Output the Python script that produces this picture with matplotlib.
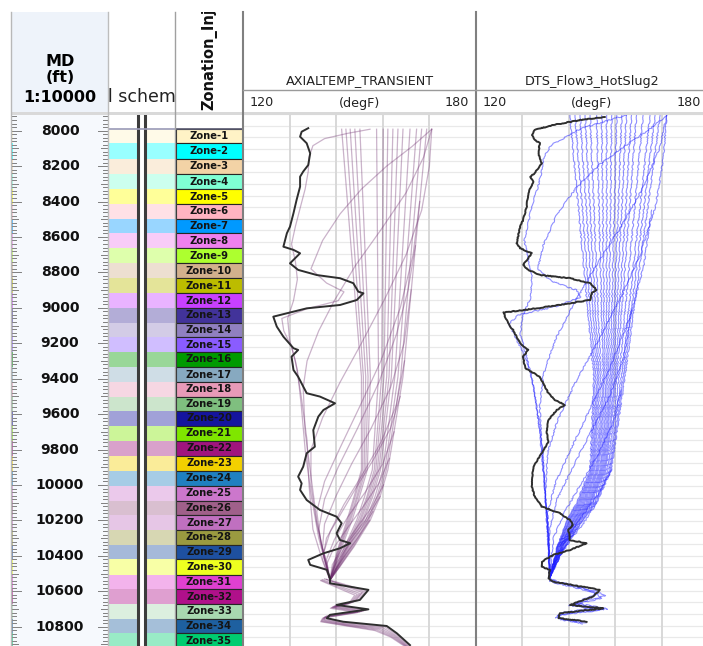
import matplotlib
matplotlib.use("Agg")
import matplotlib.pyplot as plt
from matplotlib.patches import Rectangle
import numpy as np

plt.rcParams["font.family"] = "DejaVu Sans"

# ---------------------------------------------------------------- zonation
zone_names = [f"Zone-{i}" for i in range(1, 36)]
zone_tops = [7992, 8071, 8158, 8244, 8331, 8414, 8497, 8579, 8662, 8749,
             8832, 8918, 9001, 9084, 9166, 9249, 9334, 9419, 9502, 9582,
             9667, 9750, 9836, 9921, 10006, 10089, 10171, 10254, 10337, 10420,
             10507, 10589, 10672, 10755, 10837]
zone_base = 10920
zone_colors = ["#fff3c6", "#00ffff", "#f3d3a6", "#7fffd4", "#ffff00",
               "#ffb3c1", "#0099ff", "#ee80ee", "#adff2f", "#d2b08c",
               "#bcbc00", "#c840ff", "#42339a", "#9080c0", "#8a5cff",
               "#009a00", "#87a9c0", "#e89ab8", "#7fbf7f", "#14149e",
               "#7fe600", "#a0157e", "#f2d000", "#2080c0", "#cc77cc",
               "#a0608a", "#c070c0", "#9a9a40", "#1e50a0", "#eeff20",
               "#e040d0", "#b0108a", "#a8d8b0", "#1e60a0", "#00cc70"]

depth_labels = [8000, 8200, 8400, 8600, 8800, 9000, 9200, 9400,
                9600, 9800, 10000, 10200, 10400, 10600, 10800]

# ------------------------------------------------------- AXIALTEMP_TRANSIENT
axial_ref = [(7986, 136.8), (8006, 135.1), (8034, 134.7), (8071, 136.4), (8128, 137.3),
             (8194, 136.8), (8231, 135.5), (8260, 134.7), (8316, 134.7), (8391, 133.8),
             (8466, 133.0), (8542, 132.1), (8579, 131.3), (8655, 130.4), (8673, 133.0),
             (8692, 134.7), (8749, 132.1), (8786, 134.2), (8815, 139.0), (8833, 145.0),
             (8861, 148.4), (8909, 149.7), (8918, 151.0), (8956, 149.3), (8984, 145.0),
             (9003, 136.4), (9050, 127.8), (9106, 128.7), (9163, 130.4), (9228, 133.0),
             (9238, 134.2), (9276, 132.5), (9351, 133.0), (9389, 134.2), (9482, 136.4),
             (9501, 139.8), (9539, 143.7), (9577, 140.7), (9614, 139.4), (9690, 138.1),
             (9784, 138.5), (9821, 136.4), (9897, 135.5), (9953, 134.2), (9991, 135.1),
             (10028, 134.7), (10085, 136.4), (10141, 139.8), (10179, 144.1), (10216, 145.4),
             (10273, 144.1), (10311, 145.0), (10329, 147.6), (10357, 145.0), (10386, 140.7),
             (10423, 136.8), (10451, 137.3), (10479, 141.6), (10527, 142.4), (10555, 142.4),
             (10592, 152.3), (10649, 150.1), (10677, 144.1), (10702, 152.3), (10733, 142.4),
             (10752, 141.6), (10772, 145.8), (10796, 157.0), (10837, 159.6), (10904, 163.0)]

axial_fan_depth = [7992, 9389, 9915, 10066, 10198, 10348, 10460, 10537]
axial_fan_temp = [
    [145.4, 150.5, 150.5, 148.6, 146.8, 144.6, 143.2, 142.4],
    [146.5, 151.0, 150.8, 148.9, 147.1, 144.8, 143.3, 142.4],
    [147.6, 151.6, 151.2, 149.3, 147.4, 145.0, 143.4, 142.4],
    [148.8, 152.2, 151.6, 149.6, 147.7, 145.2, 143.5, 142.4],
    [150.1, 152.8, 152.0, 150.0, 148.1, 145.5, 143.6, 142.4],
    [154.4, 154.9, 153.3, 151.3, 149.3, 146.2, 143.9, 142.4],
    [156.1, 155.7, 153.8, 151.9, 149.7, 146.6, 144.1, 142.4],
    [157.3, 156.3, 154.2, 152.2, 150.1, 146.8, 144.2, 142.4],
    [158.6, 157.0, 154.6, 152.6, 150.4, 147.0, 144.3, 142.4],
    [159.9, 157.6, 155.0, 153.0, 150.8, 147.2, 144.4, 142.4],
    [161.2, 158.2, 155.4, 153.4, 151.1, 147.5, 144.5, 142.4],
    [163.0, 159.1, 156.0, 154.0, 151.6, 147.8, 144.6, 142.4],
    [164.7, 159.9, 156.5, 154.5, 152.1, 148.1, 144.8, 142.4],
    [166.0, 160.6, 156.9, 154.9, 152.4, 148.4, 144.9, 142.4],
    [167.3, 161.2, 157.3, 155.3, 152.8, 148.6, 145.0, 142.4],
]

axial_sweeps = [
    [(7992, 168.6), (8090, 163.5), (8200, 157.0), (8330, 150.5), (8470, 145.0), (8620, 140.5),
     (8780, 137.5), (8860, 141.5), (8910, 146.0), (8960, 144.5), (9005, 136.5), (9060, 130.0),
     (9130, 130.5), (9220, 132.5), (9350, 134.0), (9550, 135.0), (9800, 136.0), (10050, 137.5),
     (10300, 139.5), (10537, 142.4)],
    [(7992, 168.6), (8150, 166.5), (8350, 162.0), (8560, 155.5), (8760, 149.0), (8960, 143.5),
     (9130, 139.5), (9300, 136.5), (9450, 135.5), (9700, 136.0), (9950, 137.5), (10200, 139.0),
     (10420, 141.0), (10537, 142.4)],
    [(7992, 168.6), (8200, 168.0), (8450, 166.0), (8700, 162.0), (8950, 156.5), (9200, 150.5),
     (9420, 145.0), (9620, 140.5), (9800, 137.5), (10000, 137.5), (10220, 139.0), (10430, 141.2),
     (10537, 142.4)],
    [(8400, 165.5), (8700, 163.8), (9000, 160.5), (9300, 155.5), (9560, 150.0), (9790, 145.0),
     (9980, 141.0), (10150, 139.0), (10320, 140.0), (10450, 141.5), (10537, 142.4)],
    [(8650, 164.4), (8900, 162.5), (9150, 159.5), (9420, 155.0), (9680, 149.5), (9900, 144.5),
     (10080, 141.0), (10250, 139.5), (10420, 141.0), (10537, 142.4)],
    [(8900, 163.3), (9200, 161.5), (9450, 158.0), (9680, 153.0), (9880, 148.0), (10060, 144.0),
     (10220, 141.0), (10350, 140.5), (10470, 141.8), (10537, 142.4)],
    [(9300, 161.6), (9550, 159.5), (9760, 155.5), (9950, 150.5), (10110, 146.0), (10260, 142.5),
     (10380, 140.8), (10480, 141.9), (10537, 142.4)],
    [(9500, 160.5), (9680, 158.0), (9860, 153.5), (10020, 149.0), (10170, 145.0), (10300, 141.5),
     (10420, 140.5), (10537, 142.4)],
    [(9700, 158.9), (9880, 156.0), (10040, 151.5), (10180, 147.0), (10310, 143.5), (10420, 141.5),
     (10537, 142.4)],
    [(9850, 157.7), (9990, 155.0), (10120, 151.0), (10240, 147.0), (10350, 143.5), (10450, 141.5),
     (10537, 142.4)],
    [(10000, 156.2), (10130, 153.0), (10250, 149.0), (10360, 145.5), (10450, 143.0), (10537, 142.4)],
    [(10066, 155.3), (10200, 151.5), (10310, 147.5), (10410, 144.5), (10537, 142.4)],
    [(10150, 153.5), (10260, 150.0), (10360, 146.5), (10450, 143.8), (10537, 142.4)],
    [(10200, 152.6), (10300, 149.5), (10390, 146.5), (10470, 144.0), (10537, 142.4)],
    [(7992, 152.7), (8015, 147.0), (8045, 141.0), (8085, 138.0), (8150, 137.0), (8230, 136.8),
     (8330, 136.0), (8430, 134.8), (8540, 133.5), (8640, 132.5), (8740, 133.5), (8840, 134.0),
     (8960, 133.0), (9060, 131.5), (9180, 132.0), (9300, 133.5), (9500, 135.0), (9750, 136.5),
     (10000, 137.0), (10250, 138.0), (10430, 140.5), (10537, 142.4)],
]

axial_tail = [
    [(10530, 141.0), (10600, 151.0), (10655, 149.0), (10684, 143.5), (10708, 151.5), (10740, 141.5),
     (10760, 141.0), (10782, 146.0), (10806, 156.0), (10845, 159.0), (10909, 162.5)],
    [(10535, 140.5), (10612, 150.0), (10664, 148.0), (10690, 143.0), (10714, 150.5), (10746, 141.0),
     (10767, 140.5), (10790, 146.5), (10815, 155.0), (10852, 158.5), (10909, 162.0)],
    [(10540, 140.0), (10622, 148.8), (10670, 147.2), (10696, 142.5), (10720, 149.5), (10752, 140.5),
     (10772, 140.0), (10797, 147.0), (10822, 154.0), (10858, 158.0), (10909, 161.5)],
    [(10537, 142.4), (10596, 151.6), (10652, 149.6), (10680, 143.8), (10705, 151.9), (10737, 142.0),
     (10756, 141.3), (10777, 145.9), (10801, 156.5), (10841, 159.3), (10909, 162.8)],
    [(10533, 141.5), (10606, 150.6), (10660, 148.5), (10687, 143.2), (10711, 151.0), (10743, 141.2),
     (10764, 140.8), (10786, 146.2), (10811, 155.5), (10849, 158.8), (10909, 162.2)],
    [(10538, 140.2), (10617, 149.4), (10667, 147.6), (10693, 142.8), (10717, 150.0), (10749, 140.8),
     (10770, 140.2), (10794, 146.8), (10819, 154.5), (10855, 158.2), (10909, 161.8)],
]

# ------------------------------------------------------- DTS_Flow3_HotSlug2
dts_ref = [(7923, 153.3), (7940, 146.9), (7968, 140.0), (7996, 135.2), (8024, 134.4),
           (8052, 135.2), (8071, 136.5), (8128, 136.1), (8184, 137.0), (8240, 135.2),
           (8260, 134.0), (8288, 134.8), (8353, 133.5), (8429, 133.1), (8504, 132.2),
           (8542, 131.4), (8636, 130.5), (8664, 131.4), (8692, 134.4), (8758, 132.2),
           (8786, 133.5), (8815, 136.5), (8833, 144.3), (8861, 149.5), (8899, 151.2),
           (8918, 149.9), (8956, 149.5), (8974, 144.3), (9003, 135.7), (9027, 127.1),
           (9069, 127.9), (9106, 128.8), (9125, 129.6), (9181, 130.9), (9219, 132.2),
           (9238, 133.5), (9276, 132.2), (9341, 132.7), (9389, 136.5), (9482, 138.7),
           (9520, 140.4), (9548, 143.0), (9577, 140.9), (9633, 138.7), (9708, 138.3),
           (9756, 138.7), (9821, 137.0), (9897, 134.8), (10010, 134.4), (10066, 135.2),
           (10122, 137.0), (10160, 141.7), (10198, 144.3), (10226, 145.1), (10254, 143.9),
           (10311, 144.3), (10329, 148.6), (10367, 144.3), (10395, 140.0), (10433, 137.0),
           (10461, 137.0), (10480, 139.1), (10527, 138.7), (10546, 140.0), (10592, 152.0),
           (10630, 150.3), (10677, 144.3), (10696, 152.9), (10724, 141.7), (10752, 141.3),
           (10771, 148.6)]

dts_fan_depth = [7915, 9389, 9915, 10102, 10198, 10350, 10518]
dts_fan_temp = [
    [144.3, 150.5, 149.5, 146.0, 143.6, 141.0, 139.1],
    [145.6, 150.9, 149.8, 146.3, 143.8, 141.1, 139.1],
    [146.9, 151.4, 150.1, 146.6, 144.1, 141.2, 139.1],
    [148.2, 151.8, 150.4, 146.9, 144.3, 141.3, 139.1],
    [149.5, 152.3, 150.7, 147.2, 144.5, 141.4, 139.1],
    [151.2, 152.9, 151.1, 147.5, 144.8, 141.6, 139.1],
    [152.5, 153.3, 151.4, 147.8, 145.1, 141.7, 139.1],
    [153.8, 153.8, 151.7, 148.1, 145.3, 141.8, 139.1],
    [155.1, 154.2, 152.1, 148.4, 145.5, 141.9, 139.1],
    [156.4, 154.7, 152.4, 148.7, 145.8, 142.0, 139.1],
    [157.7, 155.1, 152.7, 149.0, 146.0, 142.2, 139.1],
    [158.9, 155.5, 153.0, 149.3, 146.2, 142.3, 139.1],
    [160.2, 156.0, 153.3, 149.5, 146.5, 142.4, 139.1],
    [161.5, 156.4, 153.6, 149.8, 146.7, 142.5, 139.1],
    [163.2, 157.0, 154.0, 150.2, 147.0, 142.6, 139.1],
    [165.0, 157.6, 154.4, 150.6, 147.3, 142.8, 139.1],
    [166.3, 158.1, 154.7, 150.9, 147.6, 142.9, 139.1],
    [167.6, 158.5, 155.0, 151.2, 147.8, 143.0, 139.1],
]

dts_sweeps = [
    [(7915, 169.3), (7990, 165.0), (8080, 159.0), (8190, 152.0), (8320, 146.0), (8470, 141.0),
     (8640, 137.5), (8780, 136.0), (8850, 139.5), (8900, 146.0), (8940, 147.0), (8990, 141.0),
     (9040, 131.0), (9090, 128.5), (9180, 130.5), (9290, 133.0), (9450, 135.0), (9700, 136.5),
     (9950, 137.5), (10200, 138.5), (10518, 139.1)],
    [(7915, 169.3), (8100, 167.5), (8330, 163.0), (8560, 157.0), (8780, 150.5), (8990, 145.0),
     (9180, 140.5), (9370, 137.5), (9550, 136.5), (9800, 137.0), (10050, 138.0), (10300, 138.8),
     (10518, 139.1)],
    [(7915, 169.3), (8150, 168.5), (8420, 166.5), (8700, 162.5), (8960, 157.0), (9210, 151.0),
     (9430, 145.5), (9640, 141.0), (9820, 138.5), (10050, 138.0), (10300, 138.7), (10518, 139.1)],
    [(8449, 165.4), (8750, 163.5), (9040, 160.0), (9320, 155.0), (9570, 149.5), (9800, 144.5),
     (9990, 140.5), (10160, 138.5), (10350, 138.8), (10518, 139.1)],
    [(9013, 160.2), (9280, 158.3), (9500, 154.5), (9710, 149.5), (9900, 145.0), (10080, 141.0),
     (10250, 139.0), (10400, 138.8), (10518, 139.1)],
    [(9464, 157.5), (9650, 155.5), (9830, 151.5), (10000, 147.0), (10150, 143.0), (10300, 140.0),
     (10518, 139.1)],
    [(9915, 155.0), (10040, 152.0), (10160, 148.0), (10280, 144.0), (10390, 141.0), (10518, 139.1)],
    [(10102, 151.2), (10210, 148.0), (10310, 144.5), (10410, 141.5), (10518, 139.1)],
    [(7912, 158.9), (7950, 153.0), (7990, 147.0), (8034, 143.4), (8080, 139.5), (8150, 137.5),
     (8230, 137.0), (8320, 136.0), (8420, 134.5), (8520, 133.5), (8620, 132.5), (8720, 133.5),
     (8830, 134.5), (8950, 134.0), (9050, 132.0), (9150, 131.5), (9270, 133.0), (9400, 134.5),
     (9600, 136.0), (9850, 137.5), (10100, 138.0), (10350, 138.7), (10518, 139.1)],
]

dts_tail = [
    [(10518, 139.1), (10540, 139.5), (10600, 151.0), (10625, 153.5), (10672, 145.0), (10700, 154.0),
     (10730, 142.0), (10755, 141.5), (10778, 148.5)],
    [(10518, 139.1), (10545, 139.0), (10605, 150.5), (10640, 152.5), (10680, 144.0), (10705, 153.0),
     (10735, 141.0), (10760, 142.0), (10782, 147.5)],
    [(10518, 139.1), (10535, 139.5), (10590, 149.0), (10618, 151.0), (10665, 145.5), (10690, 151.5),
     (10722, 142.5), (10748, 140.5), (10770, 146.0)],
]

temp_grid = [120, 132, 144, 156, 168, 180]

# ---------------------------------------------------------------- layout
W, H = 703, 646
DATA_TOP_PX = 114
DEPTH_TOP, DEPTH_BOT = 7906, 10909

fig = plt.figure(figsize=(W / 100, H / 100), dpi=100)


def px_axes(x0, y0, x1, y1, zorder=0, face="none"):
    ax = fig.add_axes([x0 / W, 1 - y1 / H, (x1 - x0) / W, (y1 - y0) / H], zorder=zorder)
    ax.set_xlim(x0, x1)
    ax.set_ylim(y1, y0)
    ax.set_facecolor(face)
    ax.set_xticks([])
    ax.set_yticks([])
    for s in ax.spines.values():
        s.set_visible(False)
    return ax


def track(x0, x1, face="white"):
    ax = px_axes(x0, DATA_TOP_PX, x1, H, face=face)
    ax.set_ylim(DEPTH_BOT, DEPTH_TOP)
    return ax


def pastel(c, k=0.4):
    rgb = np.array(matplotlib.colors.to_rgb(c))
    return tuple(k * rgb + (1 - k))


# depth track
ax_md = track(10.5, 108, face="#f6f9fd")
for d in np.arange(7920, 10910, 20):
    ln = 9 if d % 200 == 0 else (6 if d % 100 == 0 else 4)
    ax_md.plot([11.5, 11.5 + ln], [d, d], color="#808080", lw=0.7)
    ax_md.plot([107 - ln, 107], [d, d], color="#808080", lw=0.7)
for d in depth_labels:
    ax_md.text(60, d, str(d), ha="center", va="center", fontsize=10,
               fontweight="bold", color="#111111")
for top, bot, c in zip(zone_tops, zone_tops[1:] + [zone_base], zone_colors):
    ax_md.add_patch(Rectangle((10.5, top), 2, bot - top, fc=c, ec="none", alpha=0.6))

# well schematic track
ax_ws = track(108, 175)
for top, bot, c in zip(zone_tops, zone_tops[1:] + [zone_base], zone_colors):
    ax_ws.add_patch(Rectangle((108, top), 29, bot - top, fc=pastel(c), ec="none"))
    ax_ws.add_patch(Rectangle((146, top), 29, bot - top, fc=pastel(c), ec="none"))
ax_ws.plot([138, 138], [DEPTH_TOP, DEPTH_BOT], color="#3c3c3c", lw=2.2)
ax_ws.plot([145, 145], [DEPTH_TOP, DEPTH_BOT], color="#3c3c3c", lw=2.2)
ax_ws.axhline(zone_tops[0], color="#9a9ab8", lw=1.2)

# zonation track
ax_zn = track(175, 243)
for name, top, bot, c in zip(zone_names, zone_tops, zone_tops[1:] + [zone_base], zone_colors):
    ax_zn.add_patch(Rectangle((175.5, top), 67, bot - top, fc=c, ec="#262626", lw=0.8))
    ax_zn.text(209, (top + bot) / 2, name, ha="center", va="center", fontsize=7.2,
               fontweight="bold", color="#141414", clip_on=True)
ax_zn.axhline(zone_tops[0], color="#5a5a70", lw=1.2)

# temperature tracks
ax_ax = track(243, 476)
ax_dt = track(476, 708)
metre_lines = np.arange(2410, 3330, 20) * 3.28084
for ax in (ax_ax, ax_dt):
    ax.set_xlim(120, 180)
    ax.set_ylim(DEPTH_BOT, DEPTH_TOP)
    for d in metre_lines:
        major = abs(d / 3.28084 % 500) < 1e-6
        ax.axhline(d, color="#c4c4c4" if major else "#e9e9e9",
                   lw=1.4 if major else 0.9, zorder=0.5)
    for t in temp_grid:
        ax.axvline(t, color="#d8d8d8", lw=1.4, zorder=0.6)

purple = dict(color="#6e2d6e", alpha=0.36, lw=0.9, zorder=2)
for row in axial_fan_temp:
    ax_ax.plot(row, axial_fan_depth, **purple)
for curve in axial_sweeps + axial_tail:
    d, t = zip(*curve)
    ax_ax.plot(t, d, **purple)
d, t = zip(*axial_ref)
ax_ax.plot(t, d, color="#2e2e2e", lw=1.4, zorder=3)

blue = dict(color="#2020ff", alpha=0.5, lw=0.8, zorder=2)
dts_lines = []
for row in dts_fan_temp:
    dts_lines += ax_dt.plot(row, dts_fan_depth, **blue)
for curve in dts_sweeps + dts_tail:
    d, t = zip(*curve)
    dts_lines += ax_dt.plot(t, d, **blue)
for ln in dts_lines:
    ln.set_sketch_params(scale=0.6, length=8, randomness=8)
d, t = zip(*dts_ref)
ref_line, = ax_dt.plot(t, d, color="#2e2e2e", lw=1.4, zorder=3)
ref_line.set_sketch_params(scale=0.35, length=6, randomness=6)

# ---------------------------------------------------------------- headers
ax_hd = px_axes(0, 0, W, H, zorder=10)
ax_hd.add_patch(Rectangle((10.5, 12), 97.5, 101, fc="#eef3fa", ec="none"))
ax_hd.add_patch(Rectangle((10.5, 111.5), W, 3, fc="#d9d9d9", ec="none"))
for x, c, lw in [(10.5, "#b8b8b8", 1.0), (108, "#bdbdbd", 1.0), (175, "#a0a0a0", 1.0),
                 (243, "#808080", 1.5), (476, "#808080", 1.5)]:
    ax_hd.plot([x, x], [12, H], color=c, lw=lw)
ax_hd.plot([243, 476], [90, 90], color="#9a9a9a", lw=1.0)
ax_hd.plot([476, W], [90, 90], color="#9a9a9a", lw=1.0)

ax_hd.text(60, 62, "MD", ha="center", va="center", fontsize=11.5, fontweight="bold")
ax_hd.text(60, 77, "(ft)", ha="center", va="center", fontsize=11.5, fontweight="bold")
ax_hd.text(60, 97, "1:10000", ha="center", va="center", fontsize=11.5, fontweight="bold")

for x0, x1, title in [(243, 476, "AXIALTEMP_TRANSIENT"), (476, 708, "DTS_Flow3_HotSlug2")]:
    mid = (x0 + x1) / 2
    ax_hd.text(mid, 81, title, ha="center", va="center", fontsize=9.2, color="#222222")
    ax_hd.text(mid, 103, "(degF)", ha="center", va="center", fontsize=9.2, color="#222222")
    ax_hd.text(x0 + 19, 103, "120", ha="center", va="center", fontsize=9.2, color="#222222")
    ax_hd.text(x1 - 19, 103, "180", ha="center", va="center", fontsize=9.2, color="#222222")

ax_sh = px_axes(108, 12, 175, 111, zorder=11)
ax_sh.text(141.5, 97, "Well schematic", ha="center", va="center", fontsize=12.5,
           color="#222222", clip_on=True)
ax_zh = px_axes(175, 12, 243, 111, zorder=11)
ax_zh.text(209, 110, "Zonation_Injection", rotation=90, ha="center", va="bottom",
           fontsize=10.5, fontweight="bold", color="#111111", clip_on=True)

fig.savefig("out.png", dpi=100)
